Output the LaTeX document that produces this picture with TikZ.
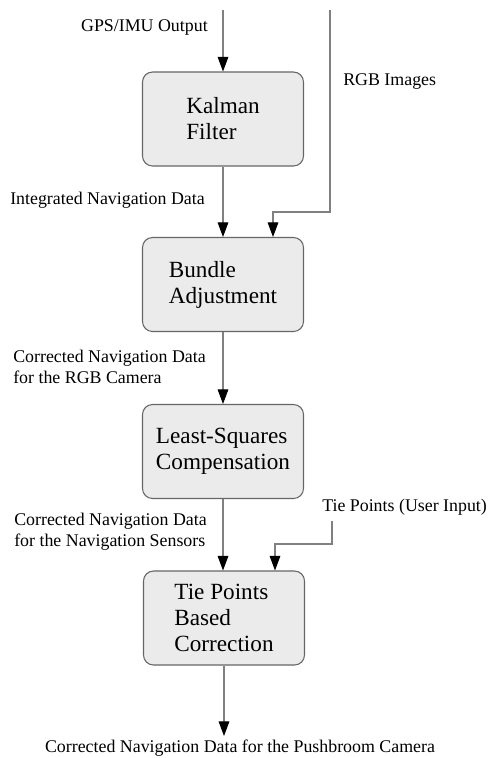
\documentclass[tikz,border=0pt]{standalone}
\usepackage{fontspec}
\setmainfont{Liberation Serif}
\usetikzlibrary{arrows.meta}

\tikzset{
    stagebox/.style={draw=black!60, fill=black!8, rounded corners=7.5pt, line width=0.8pt,
        minimum width=120.75pt, minimum height=70.5pt, align=left,
        font=\fontsize{17.4}{19.5}\selectfont},
    flowline/.style={draw=black!50, line width=0.8pt,
        -{Triangle[length=11pt, width=8pt, color=black]}},
    lbl/.style={inner sep=0pt, align=left, font=\fontsize{13.4}{15.75}\selectfont},
}

\begin{document}
\begin{tikzpicture}[x=0.75pt, y=-0.75pt]
                \useasboundingbox (0,0) rectangle (487,758);
                % processing stages
                \node[stagebox] (kalman) at (223,119) {Kalman\\Filter};
                \node[stagebox] (bundle) at (223,284.5) {Bundle\\Adjustment};
                \node[stagebox] (lsq) at (223,451.5) {Least-Squares\\Compensation};
                \node[stagebox] (tiecorr) at (224,618) {Tie Points\\Based\\Correction};
                % inputs and output
                \coordinate (gpsin) at (223,10);
                \coordinate (rgbin) at (330,10);
                \coordinate (rgbbend) at (273,212);
                \coordinate (tiein) at (332,521);
                \coordinate (tiebend) at (275,544);
                \coordinate (pbout) at (223,736);
                \draw[flowline] (gpsin) -- (kalman.north);
                \draw[flowline] (kalman.south) -- (bundle.north);
                \draw[flowline] (rgbin) |- (rgbbend) -- (rgbbend |- bundle.north);
                \draw[flowline] (bundle.south) -- (lsq.north);
                \draw[flowline] (lsq.south) -- (lsq.south |- tiecorr.north);
                \draw[flowline] (tiein) |- (tiebend) -- (tiebend |- tiecorr.north);
                \draw[flowline] (tiecorr.south) -- (tiecorr.south |- pbout);
                % labels
                \node[lbl, anchor=east] (gpslbl) at (208,27) {GPS/IMU Output};
                \node[lbl, anchor=west] (rgblbl) at (343,82) {RGB Images};
                \node[lbl, anchor=west] (intlbl) at (10,200) {Integrated Navigation Data};
                \node[lbl, anchor=west] (rgbcamlbl) at (13,367) {Corrected Navigation Data\\for the RGB Camera};
                \node[lbl, anchor=west] (navlbl) at (14,532) {Corrected Navigation Data\\for the Navigation Sensors};
                \node[lbl, anchor=west] (tielbl) at (322,507) {Tie Points (User Input)};
                \node[lbl] (pblbl) at (240,748) {Corrected Navigation Data for the Pushbroom Camera};
            \end{tikzpicture}
\end{document}
